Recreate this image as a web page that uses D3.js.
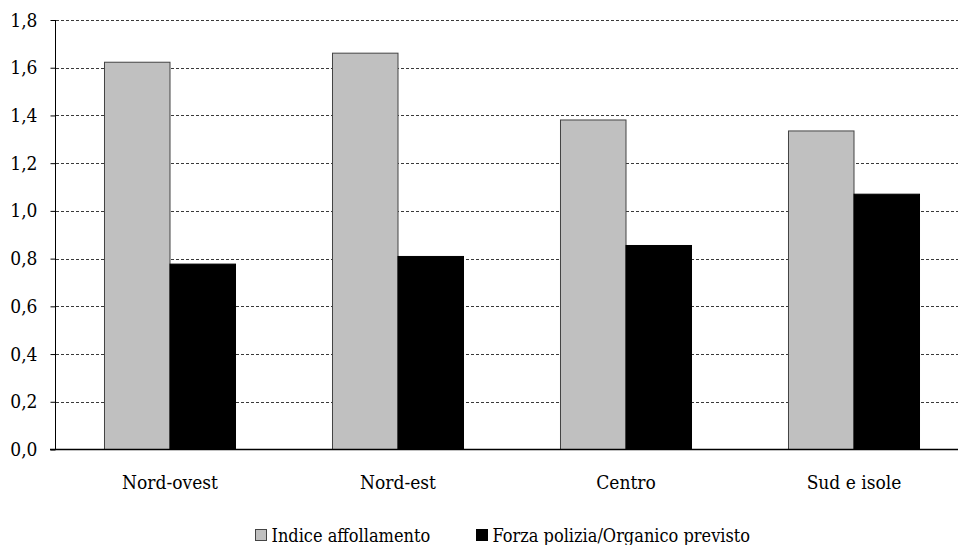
<!DOCTYPE html>
<html>
<head>
<meta charset="utf-8">
<script src="https://cdn.jsdelivr.net/npm/d3@7"></script>
<style>
  html, body { margin: 0; padding: 0; background: #fff; }
  svg { display: block; }
  svg text { font-stretch: condensed; }
</style>
</head>
<body>
<svg id="chart" width="958" height="545"></svg>
<script>
const categories = ["Nord-ovest", "Nord-est", "Centro", "Sud e isole"];
const seriesNames = ["Indice affollamento", "Forza polizia/Organico previsto"];
const indiceAffollamento = [1.623, 1.661, 1.381, 1.335];
const forzaPolizia = [0.777, 0.809, 0.855, 1.070];
const yTicks = [0, 0.2, 0.4, 0.6, 0.8, 1.0, 1.2, 1.4, 1.6, 1.8];
const seriesColors = ["#c0c0c0", "#000000"];

const svg = d3.select("#chart");
const plotLeft = 56, plotRight = 968, plotTop = 20, plotBottom = 449.5;
const FONT = '"DejaVu Serif Condensed", "DejaVu Serif", serif';
const FSIZE = 19;

const x0 = d3.scaleBand().domain(categories).range([plotLeft, plotRight])
  .paddingInner(0.4254).paddingOuter(0.2127);
const x1 = d3.scaleBand().domain(seriesNames).range([0, x0.bandwidth()]);
const y = d3.scaleLinear().domain([0, 1.8]).range([plotBottom, plotTop]);

// gridlines
svg.append("g").selectAll("line").data(yTicks.filter(d => d > 0)).join("line")
  .attr("x1", plotLeft).attr("x2", 958)
  .attr("y1", d => Math.round(y(d)) + 0.5).attr("y2", d => Math.round(y(d)) + 0.5)
  .attr("stroke", "#3a3a3a").attr("stroke-width", 1).attr("stroke-dasharray", "3,2");

// bars
const data = categories.map((c, i) => ({ cat: c, vals: [indiceAffollamento[i], forzaPolizia[i]] }));
const groups = svg.append("g").selectAll("g").data(data).join("g")
  .attr("transform", d => `translate(${x0(d.cat)},0)`);
groups.selectAll("rect").data(d => d.vals.map((v, j) => ({ v, s: seriesNames[j], j }))).join("rect")
  .attr("x", d => x1(d.s))
  .attr("y", d => y(d.v))
  .attr("width", x1.bandwidth())
  .attr("height", d => y(0) - y(d.v))
  .attr("fill", d => seriesColors[d.j])
  .attr("stroke", d => d.j === 0 ? "#444" : "#000")
  .attr("stroke-width", 1);

// x axis baseline
svg.append("line").attr("x1", plotLeft - 6).attr("x2", 958)
  .attr("y1", y(0)).attr("y2", y(0)).attr("stroke", "#000").attr("stroke-width", 1.3);

// y axis
const yAxis = d3.axisLeft(y).tickValues(yTicks).tickSize(5).tickPadding(13)
  .tickFormat(d => d.toFixed(1).replace(".", ","));
const ya = svg.append("g").attr("transform", `translate(${plotLeft - 0.5},0)`).call(yAxis)
  .attr("font-family", FONT).attr("font-size", FSIZE);
ya.select(".domain").attr("stroke", "#000").attr("d", `M0,${plotTop}V${plotBottom}`);
ya.selectAll(".tick line").attr("stroke", "#000");
ya.selectAll(".tick text").attr("fill", "#000");

// category labels
svg.append("g").attr("font-family", FONT).attr("font-size", FSIZE).selectAll("text").data(categories).join("text")
  .attr("x", d => x0(d) + x0.bandwidth() / 2)
  .attr("y", 489)
  .attr("text-anchor", "middle")
  .text(d => d);

// legend
const legendX = [255, 476];
const legend = svg.append("g").attr("font-family", FONT).attr("font-size", 18).selectAll("g").data(seriesNames).join("g")
  .attr("transform", (d, i) => `translate(${legendX[i]},529)`);
legend.append("rect").attr("x", 0.5).attr("y", 0.5).attr("width", 11).attr("height", 11)
  .attr("fill", (d, i) => seriesColors[i]).attr("stroke", (d, i) => i === 0 ? "#444" : "#000");
legend.append("text").attr("x", 16.5).attr("y", 12.5).text(d => d);
</script>
</body>
</html>
